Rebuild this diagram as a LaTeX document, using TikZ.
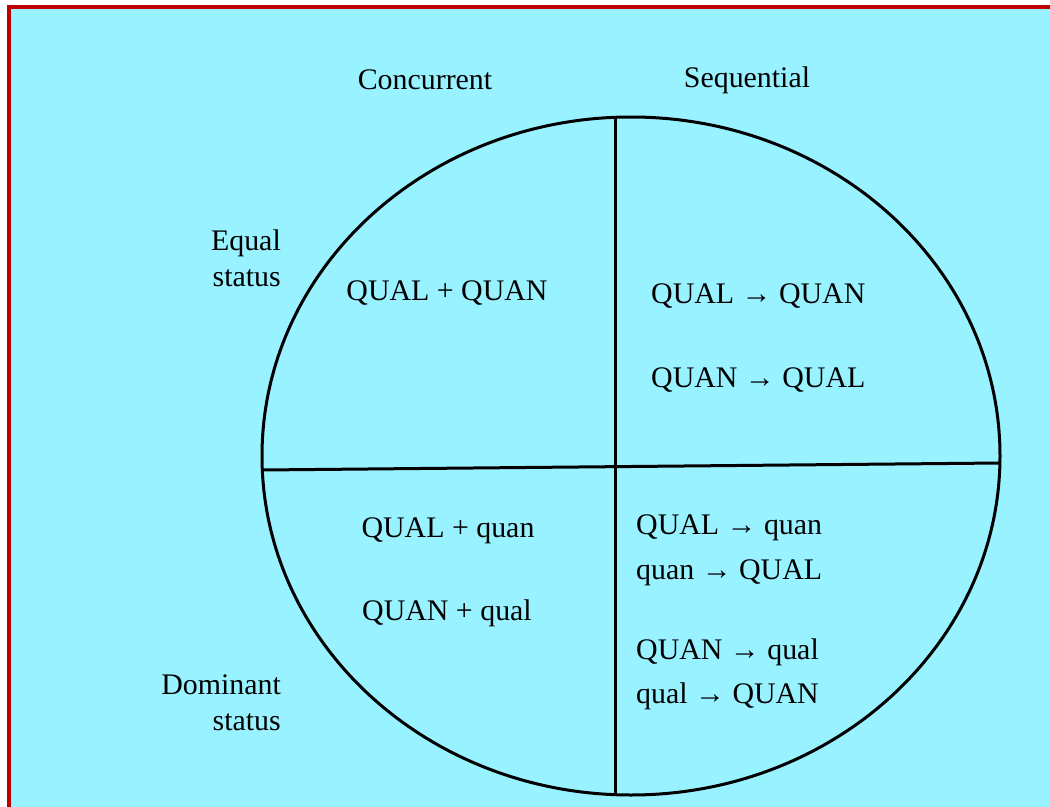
\documentclass[tikz,border=0pt]{standalone}
\usepackage{fontspec}
\setmainfont{Liberation Serif}
\usetikzlibrary{positioning}

\definecolor{skyfill}{HTML}{99F2FF}
\definecolor{frameRed}{HTML}{C00000}

\begin{document}
\begin{tikzpicture}[x=1bp, y=-1bp,
    lbl/.style={font=\fontsize{30}{36}\selectfont, inner sep=0pt},
    cell/.style={lbl, anchor=west}]
    \useasboundingbox (0,0) rectangle (1050,807);

    % Background and frame
    \fill[skyfill] (9,7) rectangle (1060,820);
    \draw[frameRed, line width=3.5bp] (9,830) -- (9,7) -- (1070,7);

    % Circle and quadrant lines
    \draw[line width=3bp] (631,456) ellipse [x radius=369, y radius=339];
    \draw[line width=3bp] (262,470) -- (1000,463);
    \draw[line width=3bp] (615,118) -- (615,793);

    % Column and row headings
    \node[lbl] (conc) at (425,80) {Concurrent};
    \node[lbl] (seq) at (747,80) {Sequential};
    \node[lbl, align=right, anchor=east] (equal) at (281,258) {Equal\\status};
    \node[lbl, align=right, anchor=east] (dom) at (281,703) {Dominant\\status};

    % Quadrant contents
    \node[lbl] (qpq) at (447,293) {QUAL + QUAN};
    \node[cell] (q1) at (651,296) {QUAL → QUAN};
    \node[cell] (q2) at (651,380) {QUAN → QUAL};
    \node[lbl] (d1) at (448,531) {QUAL + quan};
    \node[lbl] (d2) at (447,613) {QUAN + qual};
    \node[cell] (s1) at (636,528) {QUAL → quan};
    \node[cell] (s2) at (636,573) {quan → QUAL};
    \node[cell] (s3) at (636,652) {QUAN → qual};
    \node[cell] (s4) at (636,696) {qual → QUAN};
\end{tikzpicture}
\end{document}
